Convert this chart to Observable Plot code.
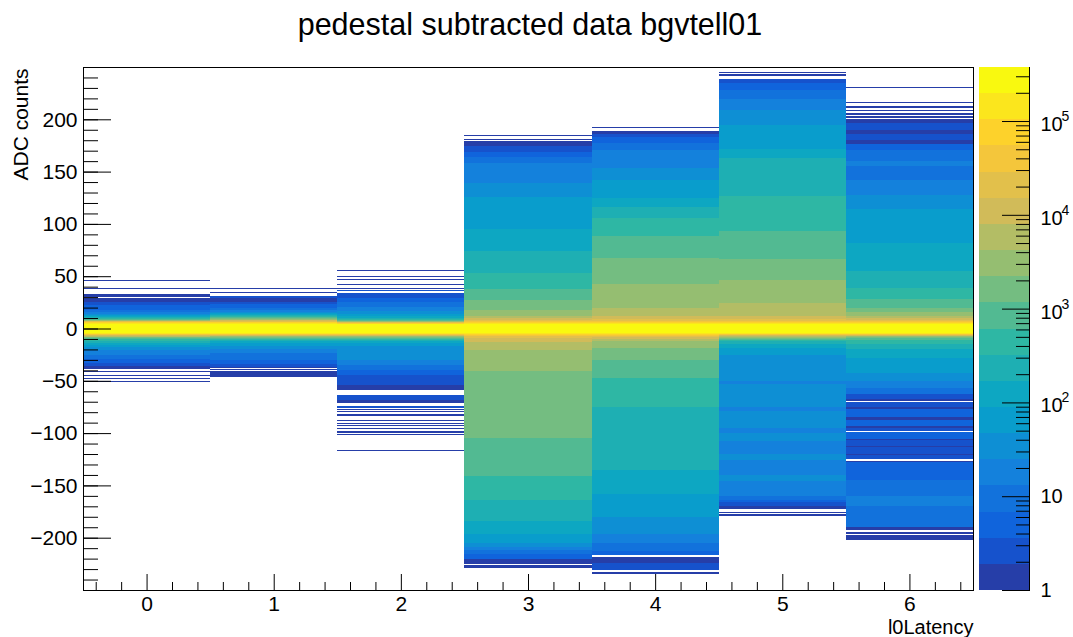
<!DOCTYPE html>
<html>
<head>
<meta charset="utf-8">
<script src="https://cdn.jsdelivr.net/npm/d3@7"></script>
<script src="https://cdn.jsdelivr.net/npm/@observablehq/plot@0.6"></script>
<style>
  html, body { margin: 0; padding: 0; background: #fff; }
  #chart { position: relative; width: 1073px; height: 637px; font-family: "Liberation Sans", Arial, Helvetica, sans-serif; color: #000; }
  #chart svg { position: absolute; top: 0; overflow: visible; }
  #title { position: absolute; left: 0; width: 1060px; top: 6px; text-align: center; font-size: 30.5px; line-height: 36px; }
</style>
</head>
<body>
<div id="chart"><div id="title">pedestal subtracted data bgvtell01</div></div>
<script>
// l0 latency settings (x categories)
const latency = [0, 1, 2, 3, 4, 5, 6];

// ADC histogram per latency: runs of [lowEdge, highEdge, entries per 1-count bin]
const lat0 = [
  [45,46,1],[38,39,1],[30,33,1],[25,29,1],[22,25,3],[18,22,5],[16,18,10],[14,16,18],[13,14,35],[12,13,65],
  [11,12,120],[10,11,230],[9,10,450],[8,9,850],[7,8,3000],[6,7,21000],[5,6,75000],[4,5,140000],
  [-4,4,280000],
  [-5,-4,140000],[-6,-5,40000],[-7,-6,11000],[-8,-7,6000],[-9,-8,1600],[-10,-9,850],[-12,-10,450],[-14,-12,230],
  [-16,-14,120],[-18,-16,65],[-21,-18,35],[-25,-21,18],[-29,-25,10],[-33,-29,5],[-36,-33,3],[-39,-36,1],
  [-42,-41,1],[-45,-44,1],[-48,-47,1],[-51,-50,1]
];
const lat1 = [
  [38,39,1],[34,35,1],[29,31,3],[25,29,1],[23,25,3],[20,23,5],[18,20,10],[16,18,18],[15,16,35],[14,15,65],
  [13,14,120],[12,13,230],[11,12,450],[10,11,850],[9,10,1600],[8,9,3000],[7,8,11000],[6,7,21000],[5,6,75000],[4,5,140000],
  [-4,4,280000],
  [-5,-4,140000],[-6,-5,40000],[-7,-6,11000],[-8,-7,3000],[-9,-8,1600],[-10,-9,850],[-11,-10,450],[-12,-11,230],
  [-14,-12,120],[-17,-14,65],[-20,-17,35],[-23,-20,18],[-30,-23,10],[-34,-30,5],[-37,-34,3],[-38,-37,1],
  [-40,-39,1],[-46,-41,1]
];
const lat2 = [
  [55,56,1],[49,50,1],[46,47,1],[42,43,1],[38,39,1],[36,37,3],
  [29,34,3],[25,29,5],[21,25,10],[17,21,18],[14,17,35],[12,14,65],[10,12,120],[9,10,230],[8,9,450],[7,8,850],
  [6,7,3000],[5,6,21000],[4,5,75000],
  [-4,4,280000],
  [-5,-4,140000],[-6,-5,40000],[-7,-6,11000],[-8,-7,3000],[-9,-8,1600],[-10,-9,850],[-11,-10,450],[-12,-11,230],
  [-14,-12,120],[-17,-14,65],[-30,-17,35],[-35,-30,18],[-40,-35,10],[-44,-40,5],[-54,-44,3],[-59,-54,1],
  [-68,-64,3],[-71,-68,1],[-76,-74,3],[-78,-77,1],[-80,-79,1],[-84,-82,1],[-88,-87,1],[-91,-90,1],[-93,-92,1],
  [-96,-95,1],[-100,-98,1],[-102,-101,1],[-117,-116,1]
];
const lat3 = [
  [184,185,1],[180,181,1],
  [174,179,1],[169,174,3],[164,169,5],[158,164,10],[139,158,18],[126,139,35],[95,126,65],[74,95,120],[53,74,230],
  [38,53,450],[27,38,850],[18,27,1600],[12,18,3000],[10,12,6000],[8,10,11000],[7,8,21000],[6,7,40000],[5,6,75000],[4,5,140000],
  [-4,4,280000],
  [-5,-4,140000],[-6,-5,75000],[-7,-6,40000],[-9,-7,21000],[-13,-9,11000],[-21,-13,6000],[-41,-21,3000],
  [-105,-41,1600],[-141,-105,850],[-164,-141,450],[-184,-164,230],[-196,-184,120],[-205,-196,65],[-209,-205,35],
  [-212,-209,18],[-216,-212,10],[-220,-216,5],[-225,-220,1],[-229,-226,1]
];
const lat4 = [
  [192,193,1],[186,189,1],[183,186,3],[177,183,5],[171,177,10],[153,171,18],[142,153,35],[125,142,65],[116,125,120],
  [106,116,230],[88,106,450],[67,88,850],[43,67,1600],[20,43,3000],[12,20,6000],[9,12,11000],[7,9,21000],[6,7,40000],
  [5,6,75000],[4,5,140000],
  [-4,4,280000],
  [-5,-4,140000],[-6,-5,75000],[-7,-6,40000],[-8,-7,21000],[-10,-8,11000],[-12,-10,6000],[-19,-12,3000],[-30,-19,1600],
  [-47,-30,850],[-75,-47,450],[-135,-75,230],[-158,-135,120],[-180,-158,65],[-196,-180,35],[-205,-196,18],
  [-213,-205,10],[-217,-213,5],[-224,-218,1],[-231,-224,3],[-235,-233,1]
];
const lat5 = [
  [244,245,1],[241,243,1],
  [235,239,3],[228,235,5],[219,228,10],[209,219,18],[195,209,35],[172,195,65],[163,172,120],[127,163,230],[93,127,450],
  [66,93,850],[46,66,1600],[24,46,3000],[12,24,6000],[9,12,11000],[7,9,21000],[6,7,40000],[5,6,75000],[4,5,140000],
  [-4,4,280000],
  [-5,-4,140000],[-6,-5,40000],[-7,-6,11000],[-8,-7,6000],[-9,-8,3000],[-10,-9,1600],[-11,-10,850],[-12,-11,450],
  [-15,-12,230],[-19,-15,120],[-25,-19,65],[-50,-25,35],[-53,-50,18],[-75,-53,35],[-79,-75,18],[-95,-79,35],
  [-100,-95,18],[-108,-100,35],[-120,-108,18],[-126,-120,35],[-140,-126,18],[-146,-140,35],[-160,-146,18],
  [-164,-160,10],[-166,-164,5],[-170,-166,3],[-173,-170,1],[-176,-175,1],[-179,-177,1]
];
const lat6 = [
  [230,231,1],[216,217,1],[211,213,1],[208,209,1],[204,206,1],[201,203,1],[196,200,1],[190,196,3],[186,190,1],
  [180,186,3],[176,180,1],[171,176,5],[160,171,10],[155,160,18],[142,155,10],[128,142,18],[114,128,35],[82,114,65],
  [55,82,120],[39,55,230],[28,39,450],[20,28,850],[16,20,1600],[12,16,3000],[10,12,6000],[8,10,11000],[7,8,21000],
  [6,7,40000],[5,6,75000],[4,5,140000],
  [-4,4,280000],
  [-5,-4,140000],[-6,-5,40000],[-7,-6,11000],[-8,-7,3000],[-9,-8,1600],[-11,-9,850],[-15,-11,450],[-20,-15,230],
  [-28,-20,120],[-43,-28,65],[-50,-43,35],[-57,-50,18],[-63,-57,10],[-67,-63,3],[-69,-67,1],
  [-75,-70,3],[-77,-75,1],[-85,-77,5],[-87,-85,1],[-93,-87,5],[-95,-93,1],[-98,-95,3],
  [-106,-99,5],[-107,-106,1],[-112,-107,3],[-113,-112,1],[-120,-113,3],[-121,-120,1],[-125,-121,3],
  [-128,-127,1],[-145,-128,5],[-160,-145,10],[-170,-160,18],[-190,-170,10],[-193,-190,1],[-196,-195,1],[-202,-197,1]
];
const columns = [lat0, lat1, lat2, lat3, lat4, lat5, lat6];

// axis ticks
const yMajorTicks = [-200, -150, -100, -50, 0, 50, 100, 150, 200];
const yMinorTicks = d3.range(-24, 25).map(i => i * 10);
const xMajorTicks = latency;
const xMinorTicks = d3.range(-2, 33).filter(i => i % 5 !== 0).map(i => i / 5);
const zLabels = [1, 10, 100, 1000, 10000, 100000];

// z range and contour levels (log z, 20 levels)
const zMax = 10 ** 5.576;
const nLevels = 20;
const thresholds = d3.range(1, nLevels).map(k => 10 ** (k * Math.log10(zMax) / nLevels));

// "bird" gradient palette, 255 colours, sampled at the contour levels
const birdStops = [0.0000, 0.1250, 0.2500, 0.3750, 0.5000, 0.6250, 0.7500, 0.8750, 1.0000];
const birdRed   = [0.2082, 0.0592, 0.0780, 0.0232, 0.1802, 0.5301, 0.8186, 0.9956, 0.9764];
const birdGreen = [0.1664, 0.3599, 0.5041, 0.6419, 0.7178, 0.7492, 0.7328, 0.7862, 0.9832];
const birdBlue  = [0.5293, 0.8630, 0.8632, 0.7877, 0.6425, 0.4662, 0.3499, 0.1968, 0.0539];
function gradient(n) {
  const out = [];
  for (let g = 1; g < birdStops.length; g++) {
    const s0 = Math.floor(n * birdStops[g - 1]), s1 = Math.floor(n * birdStops[g]);
    const m = s1 - s0;
    for (let c = 0; c < m; c++) {
      const t = c / m;
      const lerp = a => 255 * (a[g - 1] + t * (a[g] - a[g - 1]));
      out.push(d3.rgb(lerp(birdRed), lerp(birdGreen), lerp(birdBlue)).formatHex());
    }
  }
  return out;
}
const palette = gradient(255);
const levelColors = d3.range(nLevels).map(k => palette[Math.floor((k + 0.99) * palette.length / nLevels)]);
const colorScale = {type: "threshold", domain: thresholds, range: levelColors};

const cells = columns.flatMap((runs, i) => runs.map(([lo, hi, n]) => ({latency: latency[i], lo, hi, n})));

const font = '"Liberation Sans", Arial, Helvetica, sans-serif';
const signed = d => d < 0 ? "\u2212" + Math.abs(d) : String(d);

const main = Plot.plot({
  width: 1073, height: 637,
  marginLeft: 83, marginRight: 100, marginTop: 67, marginBottom: 47,
  style: {fontFamily: font, fontSize: "21px", color: "#000", background: "transparent"},
  x: {domain: [-0.5, 6.5], label: null},
  y: {domain: [-250, 250], label: null},
  color: colorScale,
  marks: [
    Plot.rect(cells, {x1: d => d.latency - 0.5, x2: d => d.latency + 0.5, y1: "lo", y2: "hi", fill: "n", shapeRendering: "crispEdges"}),
    Plot.frame({stroke: "#000", strokeWidth: 1}),
    Plot.axisY(yMajorTicks, {anchor: "left", tickSize: -28, fill: "none", label: null}),
    Plot.axisY(yMinorTicks, {anchor: "left", tickSize: -15, fill: "none", label: null}),
    Plot.axisY(yMajorTicks, {anchor: "left", tickSize: 0, tickPadding: 6, tickFormat: signed, fontSize: 21, label: null}),
    Plot.axisX(xMajorTicks, {anchor: "bottom", tickSize: -16, fill: "none", label: null}),
    Plot.axisX(xMinorTicks, {anchor: "bottom", tickSize: -8, fill: "none", label: null}),
    Plot.axisX(xMajorTicks, {anchor: "bottom", tickSize: 0, tickPadding: 5.5, tickFormat: signed, fontSize: 21, label: null}),
    Plot.text(["ADC counts"], {frameAnchor: "top-left", lineAnchor: "middle", rotate: -90, textAnchor: "end", dx: -62, dy: 1, fontSize: 21}),
    Plot.text(["l0Latency"], {frameAnchor: "bottom-right", lineAnchor: "middle", textAnchor: "end", dy: 36.9, fontSize: 20})
  ]
});

// colour bar with log z axis
const levelBands = d3.range(nLevels).map(k => ({
  lo: k === 0 ? 1 : thresholds[k - 1],
  hi: k === nLevels - 1 ? zMax : thresholds[k]
}));
const zMinor = [];
for (let e = 0; e <= 5; e++) for (let m = 2; m <= 9; m++) if (m * 10 ** e <= zMax) zMinor.push(m * 10 ** e);

const bar = Plot.plot({
  width: 113, height: 637,
  marginLeft: 19, marginRight: 44, marginTop: 67, marginBottom: 47,
  style: {fontFamily: font, fontSize: "20px", color: "#000", background: "transparent"},
  x: {domain: [0, 1], axis: null},
  y: {type: "log", domain: [1, zMax], label: null},
  color: colorScale,
  marks: [
    Plot.rect(levelBands, {x1: 0, x2: 1, y1: "lo", y2: "hi", fill: d => Math.sqrt(d.lo * d.hi), shapeRendering: "crispEdges"}),
    Plot.ruleX([1], {stroke: "#000"}),
    Plot.axisY(zLabels, {anchor: "right", tickSize: -28, fill: "none", label: null}),
    Plot.axisY(zMinor, {anchor: "right", tickSize: -14, fill: "none", label: null}),
    Plot.text(zLabels.filter(d => d < 100), {x: 1, y: d => d, text: d => String(d), textAnchor: "start", dx: 11, fontSize: 20}),
    Plot.text(zLabels.filter(d => d >= 100), {x: 1, y: d => d, text: () => "10", textAnchor: "start", dx: 11, dy: 3, fontSize: 20}),
    Plot.text(zLabels.filter(d => d >= 100), {x: 1, y: d => d, text: d => String(Math.round(Math.log10(d))), textAnchor: "start", dx: 32, dy: -5, fontSize: 14})
  ]
});

const chart = document.getElementById("chart");
main.style.left = "0px";
bar.style.left = "960px";
chart.appendChild(main);
chart.appendChild(bar);
</script>
</body>
</html>
